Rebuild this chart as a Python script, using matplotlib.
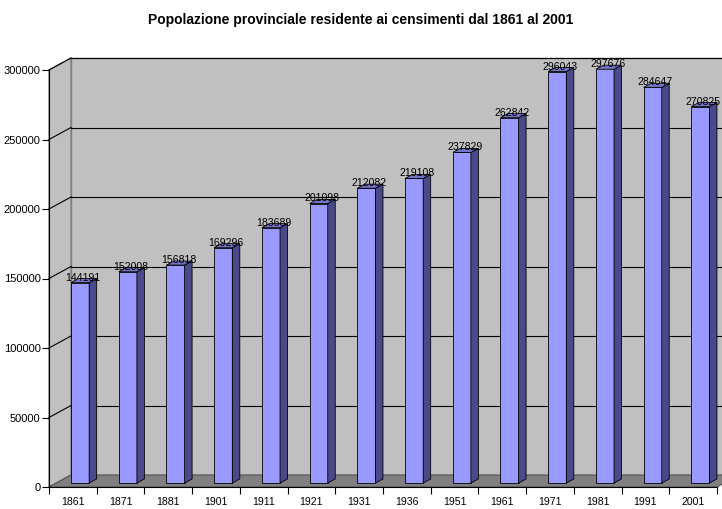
import matplotlib
matplotlib.use("Agg")
import matplotlib.pyplot as plt
from matplotlib.patches import Polygon
import numpy as np

plt.rcParams['font.family'] = ['Liberation Sans', 'DejaVu Sans']

years = ["1861", "1871", "1881", "1901", "1911", "1921", "1931", "1936",
         "1951", "1961", "1971", "1981", "1991", "2001"]
population = [144191, 152008, 156818, 169296, 183689, 201098, 212082, 219108,
              237829, 262842, 296043, 297676, 284647, 270825]
y_ticks = [0, 50000, 100000, 150000, 200000, 250000, 300000]

title = "Popolazione provinciale residente ai censimenti dal 1861 al 2001"

W, H = 722, 509
fig = plt.figure(figsize=(W / 100, H / 100), dpi=100)
fig.patch.set_facecolor("white")

# axes box in pixels
left_px, right_px, bot_px, top_px = 49, 717, 487, 70
ax = fig.add_axes([left_px / W, (H - bot_px) / H,
                   (right_px - left_px) / W, (bot_px - top_px) / H])
n = len(years)
ymax = 300000
ax.set_xlim(-0.5, n - 0.5)
ax.set_ylim(0, ymax)
ax.set_facecolor("none")

# oblique depth offset (pixels -> data units)
px_x = (n) / (right_px - left_px)
px_y = ymax / (bot_px - top_px)
dx = 22 * px_x
dy = 12 * px_y

wall_c = "#C0C0C0"
edge_c = "#808080"
x0, x1 = -0.5, n - 0.5

# back wall
ax.add_patch(Polygon([(x0 + dx, dy), (x1 + dx, dy), (x1 + dx, ymax + dy), (x0 + dx, ymax + dy)],
                     closed=True, facecolor=wall_c, edgecolor=edge_c, lw=1.0,
                     clip_on=False, zorder=0))
# side wall
ax.add_patch(Polygon([(x0, 0), (x0 + dx, dy), (x0 + dx, ymax + dy), (x0, ymax)],
                     closed=True, facecolor=wall_c, edgecolor=edge_c, lw=1.0,
                     clip_on=False, zorder=0))
# floor
ax.add_patch(Polygon([(x0, 0), (x1, 0), (x1 + dx, dy), (x0 + dx, dy)],
                     closed=True, facecolor="#808080", edgecolor="#555555", lw=0.8,
                     clip_on=False, zorder=1))

# gridlines on the walls
for v in y_ticks[1:]:
    ax.plot([x0 + dx, x1 + dx], [v + dy, v + dy], color="black", lw=0.8,
            clip_on=False, zorder=1)
    ax.plot([x0, x0 + dx], [v, v + dy], color="black", lw=0.8,
            clip_on=False, zorder=1)

# 3D columns
bw = 0.38
f0, f1 = 0.33, 0.67
front_c, side_c, top_c = "#9999FF", "#4A4A8A", "#7373C8"
xs = np.arange(n)
fx = xs + f0 * dx
fy = f0 * dy
ax.bar(fx, population, width=bw, bottom=fy, color=front_c, edgecolor="black",
       lw=0.6, zorder=3)
ddx = (f1 - f0) * dx
ddy = (f1 - f0) * dy
for xi, v in zip(fx, population):
    r = xi + bw / 2
    l = xi - bw / 2
    top = v + fy
    ax.add_patch(Polygon([(r, fy), (r + ddx, fy + ddy), (r + ddx, top + ddy), (r, top)],
                         closed=True, facecolor=side_c, edgecolor="black", lw=0.6,
                         zorder=3, clip_on=False))
    ax.add_patch(Polygon([(l, top), (r, top), (r + ddx, top + ddy), (l + ddx, top + ddy)],
                         closed=True, facecolor=top_c, edgecolor="black", lw=0.6,
                         zorder=3, clip_on=False))
    ax.text(xi + 0.06, top + ddy * 0.5 + 3 * px_y, f"{v}", ha="center", va="center",
            fontsize=7.6, color="black", zorder=5, clip_on=False)

# axes
for s in ("top", "right"):
    ax.spines[s].set_visible(False)
for s in ("left", "bottom"):
    ax.spines[s].set_color("black")
    ax.spines[s].set_linewidth(0.8)
    ax.spines[s].set_zorder(4)

ax.set_yticks(y_ticks)
ax.set_yticklabels([str(v) for v in y_ticks], fontsize=8)
ax.tick_params(axis="y", direction="out", length=5, width=0.8, pad=1)

ax.set_xticks(xs)
ax.set_xticklabels(years, fontsize=7.6)
ax.set_xticks(np.arange(n + 1) - 0.5, minor=True)
ax.tick_params(axis="x", which="major", length=0, pad=7)
ax.tick_params(axis="x", which="minor", direction="out", length=5, width=0.8)

fig.text(0.5, 1 - 20 / H, title, ha="center", va="center",
         fontsize=10, fontweight="bold")

fig.savefig("out.png", dpi=100, facecolor="white")
